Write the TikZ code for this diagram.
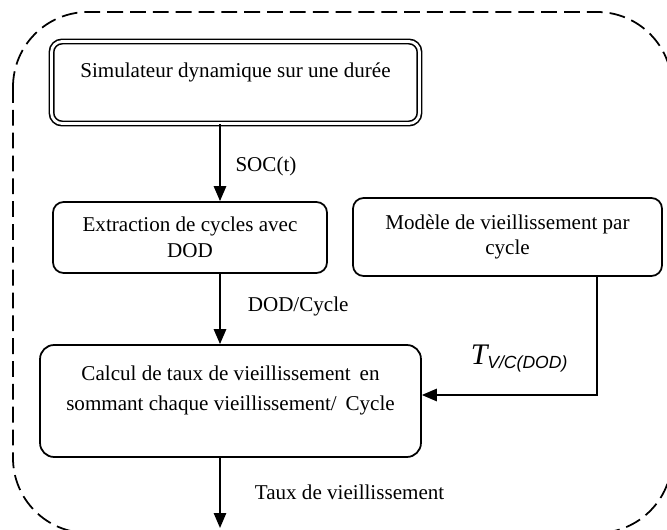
\documentclass[tikz,border=0pt]{standalone}
\usepackage{fontspec}
\setmainfont{Liberation Serif}
\setsansfont{Liberation Sans}
\usetikzlibrary{arrows.meta}
\tikzset{
    block/.style = {draw, rectangle, rounded corners=6pt, line width=1pt,
        align=center, font=\fontsize{12}{14.5}\selectfont},
    dblock/.style = {block, double, double distance=1.6pt, line width=0.9pt},
    arrow/.style = {draw, line width=1pt, -{Triangle[length=8.5pt,width=7pt]}},
    lbl/.style = {font=\fontsize{12}{14.5}\selectfont, anchor=west},
    frame/.style = {draw, line width=1pt, dash pattern=on 9pt off 4pt, rounded corners=1.5cm}
}
\begin{document}
\begin{tikzpicture}[x=0.02cm, y=-0.02cm]
    \useasboundingbox (0,0) rectangle (667,530);
    \draw [frame] (13,12) rectangle (672,533);
    % blocs
    \node [dblock, minimum width=7.36cm, minimum height=1.64cm] (simu) at (235.5,82.5)
        {Simulateur dynamique sur une durée\\ ~};
    \node [block, minimum width=5.48cm, minimum height=1.42cm] (extract) at (190,237.5)
        {Extraction de cycles avec\\ DOD};
    \node [block, minimum width=6.18cm, minimum height=1.56cm] (modele) at (507.5,237)
        {Modèle de vieillissement par\\ cycle};
    \node [block, rounded corners=8pt, minimum width=7.62cm, minimum height=2.24cm] (calcul) at (230.5,401)
        {Calcul de taux de vieillissement\, en\\[3pt] sommant chaque vieillissement/\, Cycle\\ ~};
    \coordinate (col) at (220,0);
    \coordinate (sortie) at (220,528);
    \coordinate (coude) at (597,395);
    % liaisons
    \draw [arrow] (simu.south -| col) -- node [lbl, pos=0.55, xshift=5pt] {SOC(t)} (extract.north -| col);
    \draw [arrow] (extract.south -| col) -- node [lbl, pos=0.47, xshift=12pt] {DOD/Cycle} (calcul.north -| col);
    \draw [arrow] (modele.south -| coude) -- node [anchor=east, pos=0.69, xshift=-13pt]
        {{\fontsize{17}{17}\selectfont\itshape T}\raisebox{-2.3pt}{\sffamily\itshape\fontsize{10}{10}\selectfont V/C(DOD)}}
        (coude) -- (coude -| calcul.east);
    \draw [arrow] (calcul.south -| col) -- node [lbl, pos=0.49, xshift=16pt] {Taux de vieillissement} (sortie);
\end{tikzpicture}
\end{document}
